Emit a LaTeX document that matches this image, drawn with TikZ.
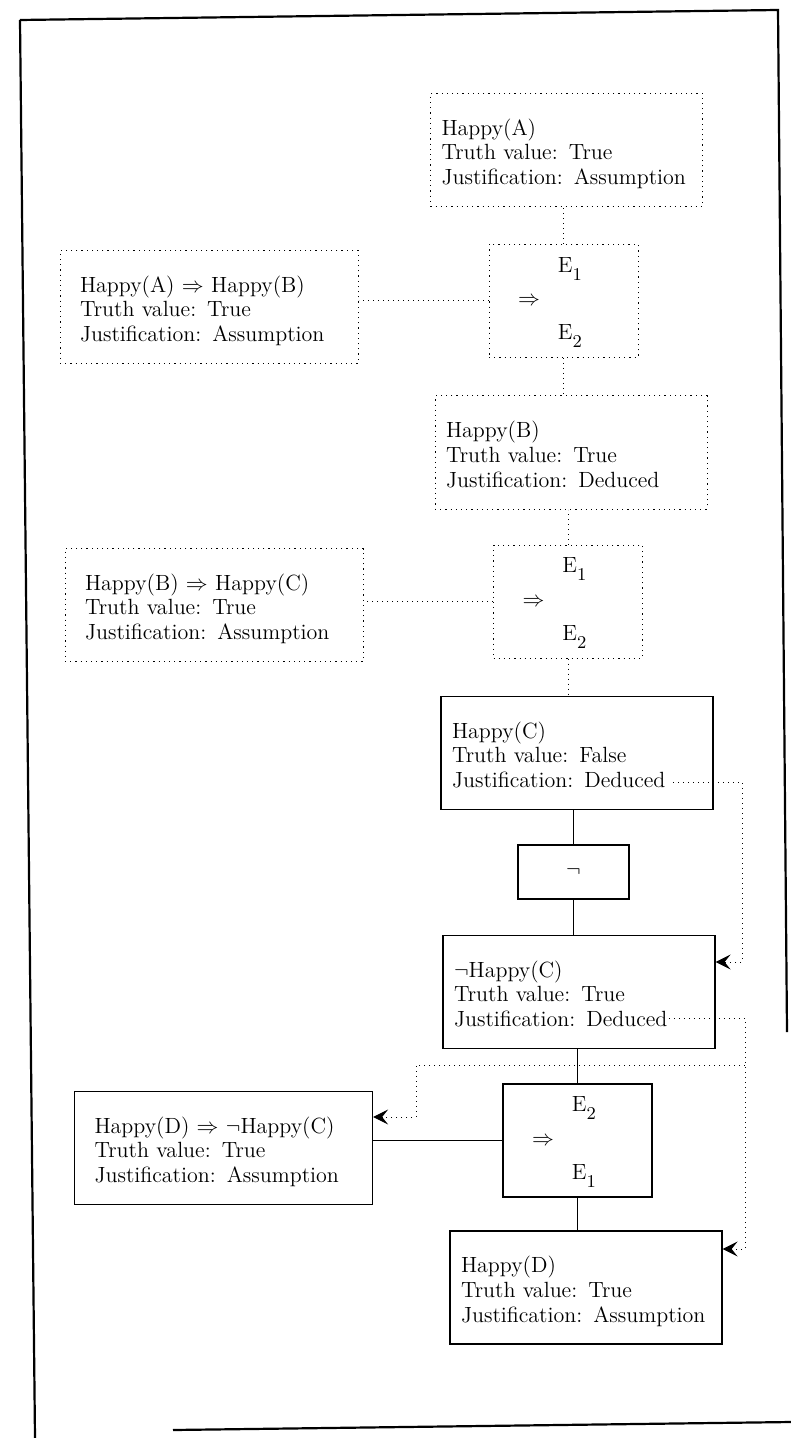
\documentclass[tikz,border=0pt]{standalone}
\usetikzlibrary{arrows.meta}

% three-line body of a belief box, set a little below the middle
\newcommand{\factlines}[3]{%
  \raisebox{-2.5pt}[\height][\depth]{%
    \begin{tabular}{@{}l@{}}#1\\Truth value: #2\\Justification: #3\end{tabular}}}
% operand label with its low index
\newcommand{\operand}[1]{E\raisebox{-4pt}[0pt][0pt]{\small #1}}
% operands and arrow of an implication box
\newcommand{\implrows}[2]{%
  \begin{tabular}{@{}l@{\hspace{9pt}}l@{}}
    & \operand{#1}\\[4.5pt]
    $\Rightarrow$ & \\[4.5pt]
    & \operand{#2}
  \end{tabular}}

\tikzset{
  fact/.style={draw,line width=0.6pt,minimum height=56.5pt,inner ysep=2pt,
    align=left,font=\fontsize{11}{12.3}\selectfont},
  rightfact/.style={fact,text width=125pt,inner xsep=5.5pt},
  leftfact/.style={fact,text width=129pt,inner xsep=10pt},
  rulebox/.style={fact,text width=45.5pt,inner xsep=14.5pt},
  opbox/.style={fact,minimum width=55.5pt,minimum height=27pt},
  weak/.style={dotted,line width=0.5pt},
  link/.style={line width=0.6pt},
  feedback/.style={weak,-{Stealth[length=7.5pt,width=7.5pt,inset=3pt]}},
  frame/.style={line width=1.1pt}
}

\begin{document}
\begin{tikzpicture}[x=0.5pt,y=-0.5pt]
\useasboundingbox (0,0) rectangle (791,1438);
% page frame
\draw[frame] (20,20) -- (778,10) -- (787,1032);
\draw[frame] (20,20) -- (35,1438);
\draw[frame] (173,1430) -- (791,1422);

% first step: A and A => B give B
\node[rightfact,weak] (ha) at (566.5,150) {\factlines{Happy(A)}{True}{Assumption}};
\node[rulebox,weak] (i1) at (563.5,301) {\implrows{1}{2}};
\node[leftfact,weak] (hab) at (209,307) {\factlines{Happy(A) $\Rightarrow$ Happy(B)}{True}{Assumption}};
\node[rightfact,weak] (hb) at (571,452.5) {\factlines{Happy(B)}{True}{Deduced}};
\draw[weak] (i1.north) -- (i1.north |- ha.south);
\draw[weak] (i1.west) -- (i1.west -| hab.east);
\draw[weak] (i1.south) -- (i1.south |- hb.north);

% second step: B and B => C give C
\node[rulebox,weak] (i2) at (568,601.5) {\implrows{1}{2}};
\node[leftfact,weak] (hbc) at (214,605) {\factlines{Happy(B) $\Rightarrow$ Happy(C)}{True}{Assumption}};
\node[rightfact] (hc) at (577,753) {\factlines{Happy(C)}{False}{Deduced}};
\draw[weak] (i2.north) -- (i2.north |- hb.south);
\draw[weak] (i2.west) -- (i2.west -| hbc.east);
\draw[weak] (i2.south) -- (i2.south |- hc.north);

% negation
\node[opbox] (neg) at (573.5,872) {$\neg$};
\node[rightfact] (nhc) at (579,992) {\factlines{$\neg$Happy(C)}{True}{Deduced}};
\draw[link] (neg.north) -- (neg.north |- hc.south);
\draw[link] (neg.south) -- (neg.south |- nhc.north);

% third step, used backwards
\node[rulebox] (i3) at (577.5,1140.5) {\implrows{2}{1}};
\node[leftfact] (hdnc) at (223.5,1148) {\factlines{Happy(D) $\Rightarrow$ $\neg$Happy(C)}{True}{Assumption}};
\node[rightfact] (hd) at (586,1287.5) {\factlines{Happy(D)}{True}{Assumption}};
\draw[link] (i3.north) -- (i3.north |- nhc.south);
\draw[link] (i3.west) -- (i3.west -| hdnc.east);
\draw[link] (i3.south) -- (i3.south |- hd.north);

% dependency arrows
\coordinate (hc-just) at (673,782);
\coordinate (rail-c) at (742,962);
\coordinate (nhc-just) at (669,1018);
\coordinate (rail-d) at (745,1249);
\coordinate (fork) at (745,1065);
\coordinate (elbow) at (416,1117);
\draw[feedback] (hc-just) -| (rail-c) -- (rail-c -| nhc.east);
\draw[feedback] (nhc-just) -| (rail-d) -- (rail-d -| hd.east);
\draw[feedback] (fork) -| (elbow) -- (elbow -| hdnc.east);
\end{tikzpicture}
\end{document}
